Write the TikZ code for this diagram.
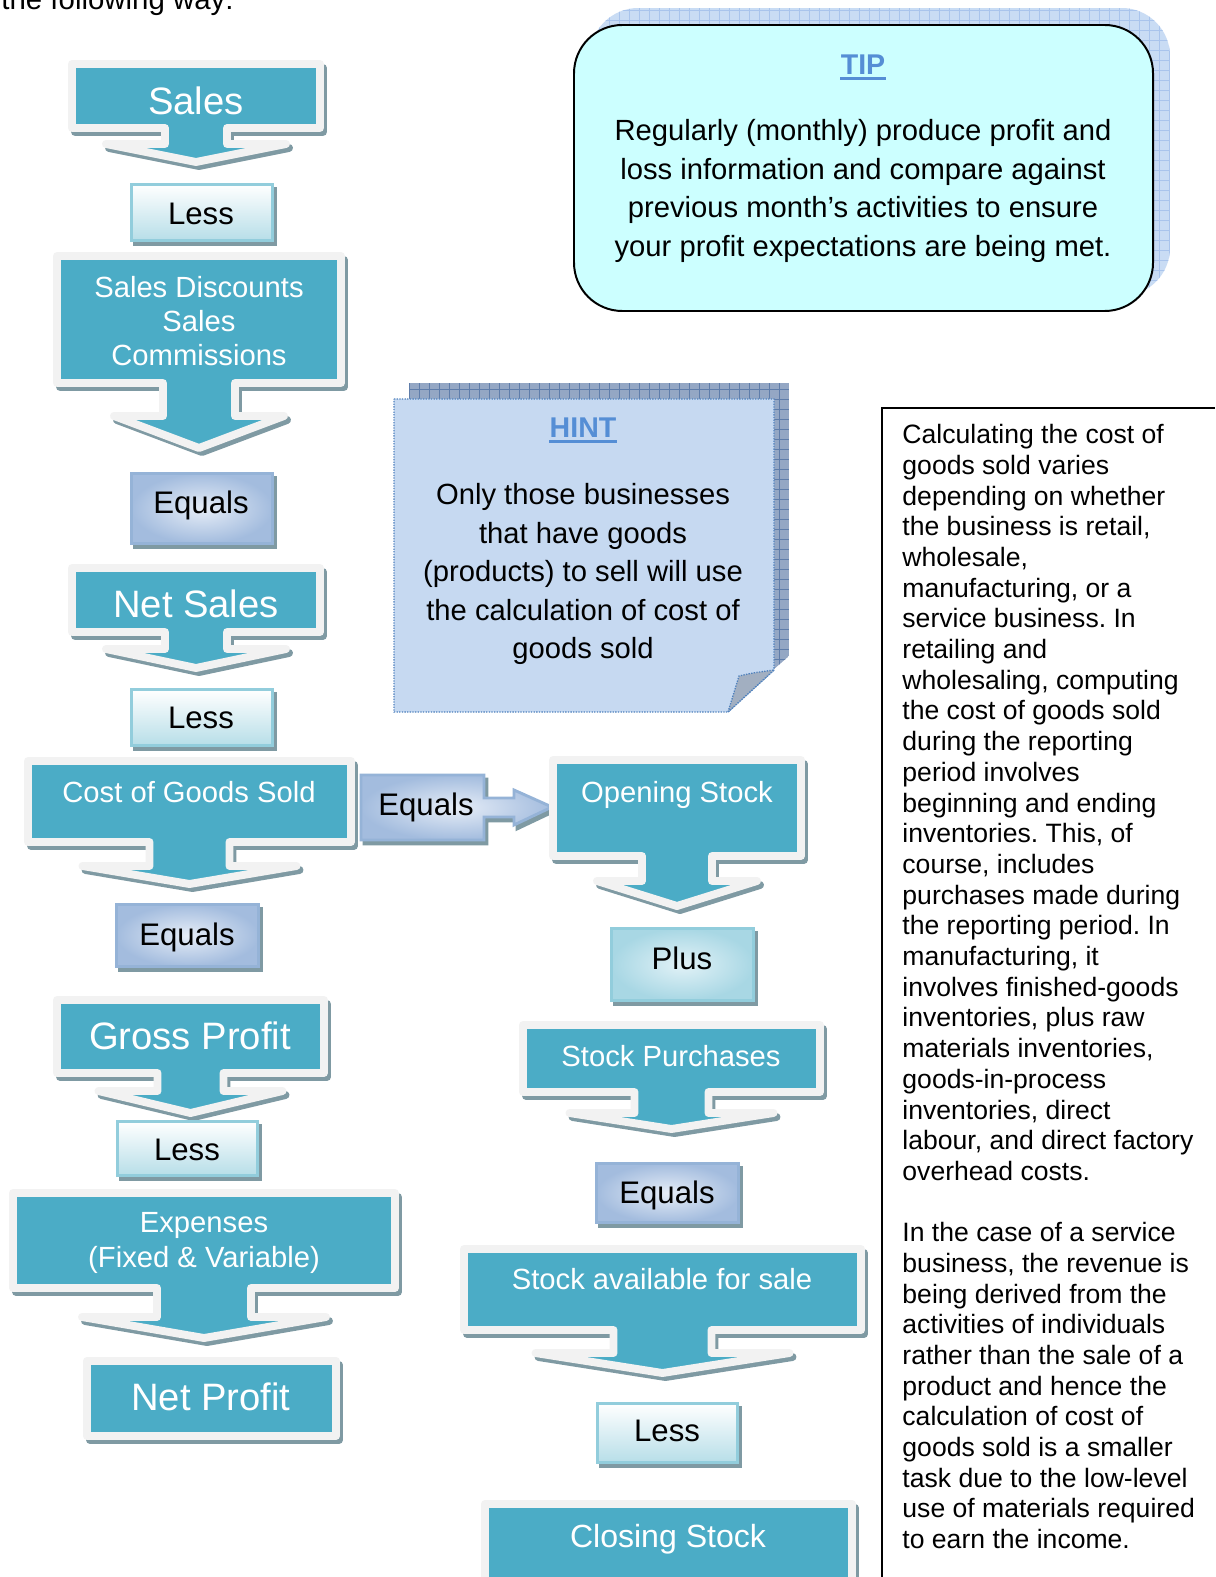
\documentclass[tikz,border=0pt]{standalone}
\usepackage{fontspec}
\setmainfont{Liberation Sans}
\usetikzlibrary{calc}
\frenchspacing
\definecolor{flowteal}{HTML}{4BACC6}
\definecolor{flowedge}{HTML}{F2F2F2}
\definecolor{flowshadow}{HTML}{7F9AA3}
\definecolor{lessedge}{HTML}{92CDDC}
\definecolor{lessfill}{HTML}{B7DEE8}
\definecolor{eqedge}{HTML}{95B3D7}
\definecolor{eqlight}{HTML}{E6EDF7}
\definecolor{eqdark}{HTML}{A3BCDE}
\definecolor{pluslight}{HTML}{E2F2F7}
\definecolor{plusdark}{HTML}{A8D7E4}
\definecolor{tipfill}{HTML}{CCFFFF}
\definecolor{tipshade}{HTML}{C9DCF4}
\definecolor{tipgrid}{HTML}{A9C4EC}
\definecolor{hintfill}{HTML}{C6D9F1}
\definecolor{hintedge}{HTML}{4F81BD}
\definecolor{hintshade}{HTML}{94A7C4}
\definecolor{hintgrid}{HTML}{5F7DAA}
\definecolor{hintfold}{HTML}{A2AFC1}
\definecolor{notetitle}{HTML}{558ED5}
\def\calloutshape[#1](#2,#3,#4,#5)(#6,#7,#8,#9){\pgfmathsetmacro\cx{(#2+#4)/2}\draw[#1] (#2,#3) -- (#4,#3) -- (#4,#5) -- ({\cx+#6},#5) -- ({\cx+#6},#8) -- ({\cx+#7},#8) -- (\cx,#9) -- ({\cx-#7},#8) -- ({\cx-#6},#8) -- ({\cx-#6},#5) -- (#2,#5) -- cycle;}
\def\downcallout(#1)(#2){\calloutshape[callshadow](#1)(#2)\calloutshape[callout](#1)(#2)}
\def\flowbox[#1](#2)(#3){\draw[boxshadow] (#2) rectangle (#3); \draw[#1] (#2) rectangle (#3);}

\begin{document}
\begin{tikzpicture}[x=0.016cm, y=-0.016cm,
	callout/.style={fill=flowteal, draw=flowedge, line width=3.6pt, line join=round},
	callshadow/.style={fill=flowshadow, draw=flowshadow, line width=3.6pt, line join=round, shift={(3,4)}},
	boxshadow/.style={fill=flowshadow, draw=flowshadow, line width=1.3pt, shift={(3,4)}},
	lessbox/.style={draw=lessedge, line width=1.3pt, top color=white, bottom color=lessfill},
	eqbox/.style={draw=eqedge, line width=1.3pt, inner color=eqlight, outer color=eqdark},
	plusbox/.style={draw=lessedge, line width=1.3pt, inner color=pluslight, outer color=plusdark},
	bigtxt/.style={text=white, inner sep=0pt, font=\fontsize{17.4}{21}\selectfont},
	midtxt/.style={text=white, inner sep=0pt, align=center, font=\fontsize{13.3}{15.6}\selectfont},
	boxtxt/.style={inner sep=0pt, font=\fontsize{14.2}{17}\selectfont},
	notetxt/.style={inner sep=0pt, align=center, font=\fontsize{13.3}{17.55}\selectfont},
	headtxt/.style={inner sep=0pt, text=notetitle, font=\fontsize{13}{16}\selectfont\bfseries},
	sidetxt/.style={inner sep=0pt, align=left, anchor=north west, font=\fontsize{12.1}{13.98}\selectfont}]
			%%%%% START %%%%%
			
			\fill[white] (0,0) rectangle (1215,1577);
			\useasboundingbox (0,0) rectangle (1215,1577);
			
			\node[anchor=base west, inner sep=0pt, font=\fontsize{13.4}{16}\selectfont] (intro) at (1,10) {the following way:};
			
			% left column
			\downcallout(72,64,320,128)(31,90,144,162)
			\flowbox[lessbox](131.5,184.5)(272.5,240.5)
			\downcallout(57,256,341,383)(36,85,416,448)
			\flowbox[eqbox](131.5,473.5)(272.5,543.5)
			\downcallout(72,568,320,632)(31,90,649,668)
			\flowbox[lessbox](131.5,689.5)(272.5,745.5)
			\downcallout(28,761,351,842)(40,107,866,884)
			\flowbox[eqbox](116.5,904.5)(258.5,966.5)
			\downcallout(57,1000,324,1073)(33,92,1091,1113)
			\flowbox[lessbox](117.5,1121.5)(257.5,1175.5)
			\downcallout(13,1193,395,1288)(47,122,1317,1338)
			\draw[callshadow] (87,1361) rectangle (336,1436);
			\draw[callout] (87,1361) rectangle (336,1436);
			
			\node[bigtxt] (sales) at (196,101) {Sales};
			\node[boxtxt] (less1) at (201,214) {Less};
			\node[midtxt] (discounts) at (199,321) {Sales Discounts\\Sales\\Commissions};
			\node[boxtxt] (equals1) at (201,505) {Equals};
			\node[bigtxt] (netsales) at (196,604) {Net Sales};
			\node[boxtxt] (less2) at (201,718) {Less};
			\node[midtxt] (cogs) at (189,792) {Cost of Goods Sold};
			\node[boxtxt] (equals2) at (187,937) {Equals};
			\node[bigtxt] (grossprofit) at (190,1036) {Gross Profit};
			\node[boxtxt] (less3) at (187,1150) {Less};
			\node[midtxt] (expenses) at (204,1243) {Expenses\\(Fixed \& Variable)};
			\node[bigtxt] (netprofit) at (211,1397) {Net Profit};
			
			% equals pointing across
			\draw[boxshadow] (361,775) -- (484,775) -- (484,798) -- (514,798) -- (514,790) -- (552,807) -- (514,825) -- (514,817) -- (484,817) -- (484,840) -- (361,840) -- cycle;
			\draw[eqbox] (361,775) -- (484,775) -- (484,798) -- (514,798) -- (514,790) -- (552,807) -- (514,825) -- (514,817) -- (484,817) -- (484,840) -- (361,840) -- cycle;
			\node[boxtxt] (equalsright) at (426,807) {Equals};
			
			% right column
			\downcallout(553,760,801,856)(35,80,881,906)
			\flowbox[plusbox](611.5,928.5)(753.5,1000.5)
			\downcallout(523,1025,820,1092)(37,102,1113,1129)
			\flowbox[eqbox](596.5,1163.5)(738.5,1222.5)
			\downcallout(464,1249,861,1330)(49,127,1353,1373)
			\flowbox[lessbox](597.5,1403.5)(737.5,1462.5)
			\draw[callshadow] (485,1504) rectangle (852,1582);
			\draw[callout] (485,1504) rectangle (852,1582);
			
			\node[midtxt] (opening) at (677,795) {Opening Stock};
			\node[boxtxt] (plus) at (682,958) {Plus};
			\node[midtxt] (purchases) at (671,1056) {Stock Purchases};
			\node[boxtxt] (equals3) at (667,1195) {Equals};
			\node[midtxt] (available) at (662,1279) {Stock available for sale};
			\node[boxtxt] (less4) at (667,1431) {Less};
			\node[midtxt, font=\fontsize{14.6}{17}\selectfont] (closing) at (668,1539) {Closing Stock};
			
			% tip
			\begin{scope}
				\clip[rounded corners=22pt] (590,8) rectangle (1170,296);
				\fill[tipshade] (590,8) rectangle (1170,296);
				\draw[tipgrid, line width=0.3pt, step=0.16cm] (590,296) grid (1170,8);
			\end{scope}
			\draw[fill=tipfill, line width=0.9pt, rounded corners=22pt] (574,25) rectangle (1153,311);
			\node[headtxt] (tiphead) at (863,65) {TIP};
			\draw[notetitle, line width=1.3pt] ([yshift=-1.8pt]tiphead.base west) -- ([yshift=-1.8pt]tiphead.base east);
			\node[notetxt] (tipbody) at (863,191) {Regularly (monthly) produce profit and\\loss information and compare against\\previous month’s activities to ensure\\your profit expectations are being met.};
			
			% hint
			\begin{scope}
				\clip (409,383) -- (789,383) -- (789,656) -- (743,696) -- (409,696) -- cycle;
				\fill[hintshade] (409,383) rectangle (789,696);
				\draw[hintgrid, line width=0.4pt, step=0.16cm] (409,696) grid (789,383);
			\end{scope}
			\draw[fill=hintfill, draw=hintedge, line width=0.6pt, dash pattern=on 0.6pt off 0.6pt] (394,399) -- (774,399) -- (774,670) -- (728,712) -- (394,712) -- cycle;
			\draw[fill=hintfold, draw=hintedge, line width=0.6pt, dash pattern=on 0.6pt off 0.6pt] (728,712) -- (739,676) .. controls (752,673) .. (774,670) -- cycle;
			\node[headtxt] (hinthead) at (583,428) {HINT};
			\draw[notetitle, line width=1.3pt] ([yshift=-1.8pt]hinthead.base west) -- ([yshift=-1.8pt]hinthead.base east);
			\node[notetxt] (hintbody) at (583,574) {Only those businesses\\that have goods\\(products) to sell will use\\the calculation of cost of\\goods sold};
			
			% side text
			\draw[line width=0.9pt] (1215,408) -| (882,1577);
			\node[sidetxt] (costnote) at (902,424) {Calculating the cost of\\goods sold varies\\depending on whether\\the business is retail,\\wholesale,\\manufacturing, or a\\service business. In\\retailing and\\wholesaling, computing\\the cost of goods sold\\during the reporting\\period involves\\beginning and ending\\inventories. This, of\\course, includes\\purchases made during\\the reporting period. In\\manufacturing, it\\involves finished-goods\\inventories, plus raw\\materials inventories,\\goods-in-process\\inventories, direct\\labour, and direct factory\\overhead costs.};
			\node[sidetxt] (servicenote) at (902,1222) {In the case of a service\\business, the revenue is\\being derived from the\\activities of individuals\\rather than the sale of a\\product and hence the\\calculation of cost of\\goods sold is a smaller\\task due to the low-level\\use of materials required\\to earn the income.};
			
			%%%%% END %%%%%
\end{tikzpicture}
\end{document}
